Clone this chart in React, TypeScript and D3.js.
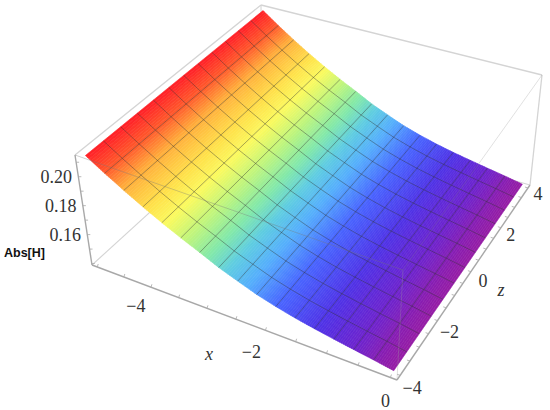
import React from "react";
import * as d3 from "d3";

// Data
const xMesh = [-5, -4.6875, -4.375, -4.0625, -3.75, -3.4375, -3.125, -2.8125, -2.5, -2.1875, -1.875, -1.5625, -1.25, -0.9375, -0.625, -0.3125, 0];
const absH = [0.2135, 0.2055, 0.198, 0.191, 0.1845, 0.1785, 0.173, 0.1672, 0.1625, 0.158, 0.1545, 0.1515, 0.149, 0.1468, 0.1447, 0.1427, 0.1405];
const zMesh = [-4, -3.333, -2.667, -2, -1.333, -0.667, 0, 0.667, 1.333, 2, 2.667, 3.333, 4];
const colorX = [-5, -4.7, -4.4, -4.0, -3.7, -3.35, -3.0, -2.7, -2.35, -1.85, -1.2, -0.6, -0.2, 0];
const colorStops = ["#ff1e28", "#ff5a2d", "#ffaf3c", "#ffe14b", "#fafa5f", "#bef57d", "#82e8aa", "#5fcde1", "#55affc", "#4864ff", "#5032e6", "#6e23cd", "#8c1eaf", "#961ea5"];
const xTicks = [-4, -2, 0];
const zTicks = [-4, -2, 0, 2, 4];
const vTicks = [0.16, 0.18, 0.2];
const xMinor = d3.range(-5, 0.01, 0.5);
const zMinor = d3.range(-4, 4.01, 0.5);
const vMinor = [0.14, 0.15, 0.16, 0.17, 0.18, 0.19, 0.2, 0.21];

type P = [number, number];
const W = 550, H = 410;
// screen positions of the eight corners of the plot box
const A: P = [75, 155], B: P = [261, 5], C: P = [542, 75], D: P = [403, 270];
const E: P = [92, 265], F: P = [262, 110], G: P = [530, 185], Hh: P = [397, 380];

const tx = d3.scaleLinear().domain([-5.1, 0.1]).range([0, 1]);
const tz = d3.scaleLinear().domain([-4.16, 4.16]).range([0, 1]);
const tv = d3.scaleLinear().domain([0.139, 0.215]).range([0, 1]);
const warp = (t: number, k: number) => t / (t + k * (1 - t));
const mix = (a: P, b: P, t: number): P => [a[0] + (b[0] - a[0]) * t, a[1] + (b[1] - a[1]) * t];

function project(x: number, z: number, v: number): P {
  const u = warp(tx(x), 1.12), w = warp(tz(z), 0.8), h = tv(v);
  const bot = mix(mix(E, Hh, u), mix(F, G, u), w);
  const top = mix(mix(A, D, u), mix(B, C, u), w);
  return mix(bot, top, h);
}
const valueAt = d3.scaleLinear().domain(xMesh).range(absH);
const colorAt = d3.scaleLinear<string>().domain(colorX).range(colorStops).interpolate(d3.interpolateRgb);
const line = d3.line<P>();
const strips = d3.range(0, 160).map((i) => [-5 + (i * 5) / 160, -5 + ((i + 1) * 5) / 160]);
const fineX = d3.range(0, 161).map((i) => -5 + (i * 5) / 160);
const poly = (pts: P[]) => line(pts) + "Z";

const boxFaint = "#d4d4d4";
const axis = "#a8a8a8";
const textFont = "'Liberation Serif', serif";
const xLabelOffset: Record<string, P> = { "-4": [-15, 25], "-2": [-14, 28], "0": [-5, 29] };

export default function App() {
  const seg = (a: P, b: P, c: string, w = 1.1, o = 1) => (
    <line x1={a[0]} y1={a[1]} x2={b[0]} y2={b[1]} stroke={c} strokeWidth={w} opacity={o} />
  );
  const tick = (x: number, z: number, v: number, dx: number, dy: number, k: string) => {
    const p = project(x, z, v);
    return <line key={k} x1={p[0]} y1={p[1]} x2={p[0] + dx} y2={p[1] + dy} stroke={axis} strokeWidth={0.8} />;
  };
  const minus = (s: string) => s.replace("-", "\u2212");
  return (
    <svg width={W} height={H} style={{ position: "absolute", left: 0, top: 0, background: "#fff" }}>
      <defs>
        <filter id="soft" x="-5%" y="-5%" width="110%" height="110%">
          <feGaussianBlur stdDeviation="0.5" />
        </filter>
      </defs>
      <g filter="url(#soft)">
        {seg(E, F, boxFaint)}
        {seg(F, G, boxFaint)}
        {seg(F, B, boxFaint)}
        {seg(A, B, boxFaint, 1.3)}
        {seg(B, C, boxFaint, 1.3)}
        {seg(C, G, boxFaint, 1.3)}
        {strips.map(([a, b], i) => (
          <path
            key={i}
            d={poly([project(a, -4, valueAt(a)), project(b, -4, valueAt(b)), project(b, 4, valueAt(b)), project(a, 4, valueAt(a))])}
            fill={colorAt((a + b) / 2)}
            stroke={colorAt((a + b) / 2)}
            strokeWidth={0.6}
          />
        ))}
        {xMesh.slice(1, -1).map((x) => (
          <path key={x} d={line([project(x, -4, valueAt(x)), project(x, 4, valueAt(x))]) ?? ""} fill="none" stroke="#333" strokeOpacity={0.42} strokeWidth={1} />
        ))}
        {zMesh.slice(1, -1).map((z) => (
          <path key={z} d={line(fineX.map((x) => project(x, z, valueAt(x)))) ?? ""} fill="none" stroke="#333" strokeOpacity={0.42} strokeWidth={1} />
        ))}
        {seg(A, D, "#777", 1, 0.35)}
        {seg(D, C, "#777", 1, 0.22)}
        {seg(D, Hh, "#999", 1, 0.3)}
        {seg(A, E, axis, 1.4)}
        {seg(E, Hh, axis, 1.4)}
        {seg(Hh, G, axis, 1.4)}
        {vMinor.map((v) => tick(-5.1, -4.16, v, 3, 0, "v" + v))}
        {xMinor.map((x) => tick(x, -4.16, 0.139, 1, -3, "x" + x))}
        {zMinor.map((z) => tick(0.1, z, 0.139, -3, -1, "z" + z))}
      </g>
      <g fontFamily={textFont} fontSize={18} fill="#333" textAnchor="middle">
        {vTicks.map((v) => {
          const p = project(-5.1, -4.16, v);
          return <text key={v} x={p[0] - 22} y={p[1] + 6}>{v.toFixed(2)}</text>;
        })}
        {xTicks.map((x) => {
          const p = project(x, -4.16, 0.139);
          const [dx, dy] = xLabelOffset[String(x)];
          return <text key={x} x={p[0] + dx} y={p[1] + dy}>{minus(String(x))}</text>;
        })}
        {zTicks.map((z) => {
          const p = project(0.1, z, 0.139);
          return <text key={z} x={p[0] + 12 - (z > 0 ? 2 : 0)} y={p[1] + 19 - (z + 4) * 0.9}>{minus(String(z))}</text>;
        })}
        <text x={209} y={360} fontStyle="italic">x</text>
        <text x={501} y={296} fontStyle="italic">z</text>
      </g>
      <text x={4} y={257} fontFamily="'Liberation Sans', sans-serif" fontWeight="bold" fontSize={12.5} fill="#111">Abs[H]</text>
    </svg>
  );
}
